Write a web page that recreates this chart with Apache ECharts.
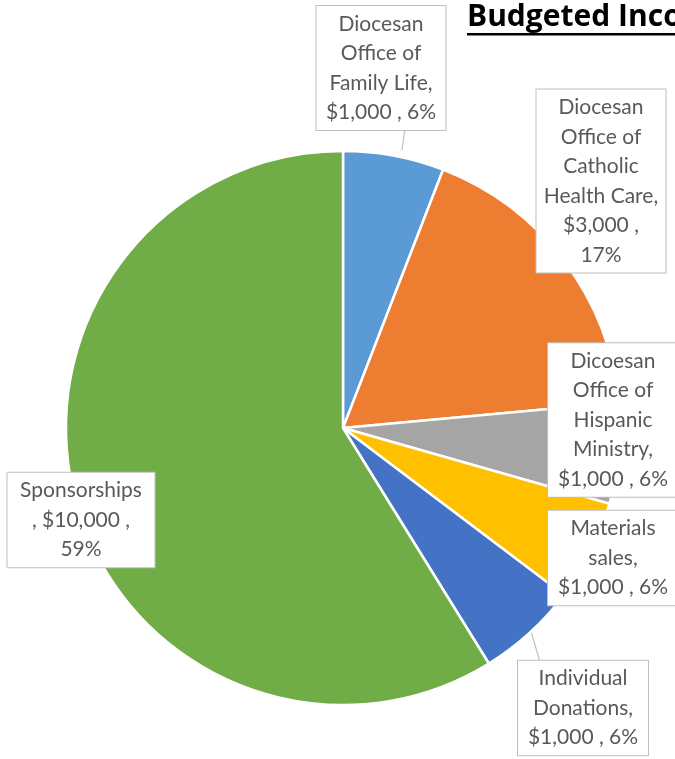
<!DOCTYPE html>
<html><head><meta charset="utf-8">
<script src="https://cdn.jsdelivr.net/npm/echarts@6/dist/echarts.min.js"></script>
<style>html,body{margin:0;padding:0;background:#fff}#c{width:675px;height:759px}</style>
</head><body><div id="c"></div>
<script>
// ---- data ----
const categories = ['Diocesan Office of Family Life', 'Diocesan Office of Catholic Health Care', 'Dicoesan Office of Hispanic Ministry', 'Materials sales', 'Individual Donations', 'Sponsorships '];
const values = [1000, 3000, 1000, 1000, 1000, 10000];
const percents = [6, 17, 6, 6, 6, 59];
const titleText = 'Budgeted Income';

// ---- styles / layout ----
const colors = ['#5B9BD5', '#ED7D31', '#A5A5A5', '#FFC000', '#4472C4', '#70AD47'];
const lineWords = [[1,2,2,3],[1,2,1,2,2,1],[1,2,1,1,3],[1,1,3],[1,1,3],[1,3,1]];
const boxCenter = [[381,68],[601,181],[613,420],[613,558],[583,708],[81,520]];
const boxWidth = [121,121,122,122,122,139];
const tips = [[402,150],[560,298],[527,450],[527,520],[530,628],[192,490]];
const bases = [[405,128],[566,270],[551,440],[551,525],[540,662],[153,492]];

function fmtMoney(v){ return '$' + v.toLocaleString('en-US'); }
function labelText(i){
  const full = categories[i] + ', ' + fmtMoney(values[i]) + ' , ' + percents[i] + '%';
  const toks = full.split(/\s+/).filter(Boolean);
  const lines = []; let k = 0;
  lineWords[i].forEach(n => { lines.push(toks.slice(k, k+n).join(' ')); k += n; });
  if (k < toks.length) lines.push(toks.slice(k).join(' '));
  return lines.join('\n');
}

const chart = echarts.init(document.getElementById('c'));
chart.setOption({
  animation: false,
  title: {
    text: titleText, left: 462, top: -3,
    textStyle: { fontFamily: 'Open Sans', fontWeight: 'bold', fontSize: 30, color: '#000' }
  },
  graphic: [{ type: 'rect', shape: { x: 467, y: 33, width: 220, height: 2.5 }, style: { fill: '#000' } }],
  series: [{
    type: 'pie',
    center: [343, 428],
    radius: 277,
    startAngle: 90,
    clockwise: true,
    avoidLabelOverlap: false,
    itemStyle: { borderColor: '#fff', borderWidth: 2.5 },
    data: categories.map((c, i) => ({
      name: c, value: values[i],
      itemStyle: { color: colors[i] },
      label: { width: boxWidth[i] }
    })),
    label: {
      show: true,
      formatter: p => labelText(p.dataIndex),
      fontFamily: 'Lato', fontSize: 21, lineHeight: 29.5, color: '#595959',
      align: 'center',
      backgroundColor: '#fff', borderColor: '#BFBFBF', borderWidth: 1,
      padding: [3, 4, 3, 4]
    },
    labelLine: { show: true, lineStyle: { color: '#BFBFBF', width: 1.2 } },
    labelLayout: p => {
      const i = p.dataIndex;
      return {
        x: boxCenter[i][0], y: boxCenter[i][1],
        align: 'center', verticalAlign: 'middle',
        labelLinePoints: [tips[i], tips[i], bases[i]]
      };
    },
    emphasis: { disabled: true }
  }]
});
</script></body></html>
